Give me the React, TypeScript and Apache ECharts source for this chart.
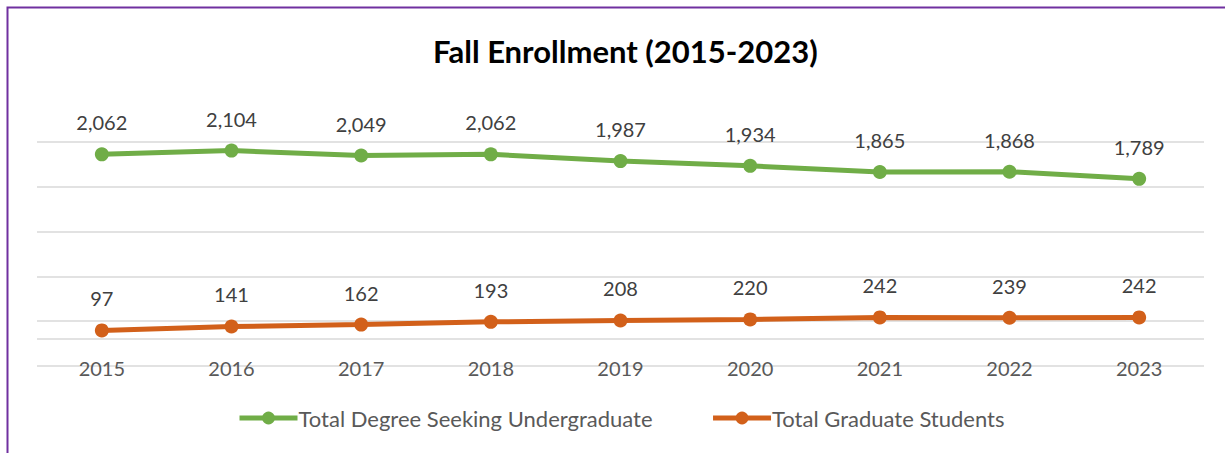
import React, { useEffect, useRef } from "react";
import * as echarts from "echarts";

const years = ["2015", "2016", "2017", "2018", "2019", "2020", "2021", "2022", "2023"];
const undergrad = [2062, 2104, 2049, 2062, 1987, 1934, 1865, 1868, 1789];
const graduate = [97, 141, 162, 193, 208, 220, 242, 239, 242];
const seriesNames = ["Total Degree Seeking Undergraduate", "Total Graduate Students"];
const yMin = -300;
const yMax = 2200;
const yStep = 500;

const FONT = "Lato, 'Open Sans', sans-serif";

export default function App() {
  const ref = useRef<HTMLDivElement>(null);
  useEffect(() => {
    document.body.style.margin = "0";
    if (!ref.current) return;
    const chart = echarts.init(ref.current, undefined, { renderer: "svg" });
    const labelStyle = {
      show: true,
      position: "top" as const,
      distance: 15,
      color: "#404040",
      fontSize: 20,
      fontFamily: FONT,
      formatter: (p: any) => Number(p.value).toLocaleString("en-US"),
    };
    chart.setOption({
      animation: false,
      backgroundColor: "#ffffff",
      title: {
        text: "Fall Enrollment (2015-2023)",
        left: 428,
        top: 30,
        textStyle: { fontSize: 31, fontWeight: "bold", color: "#000000", fontFamily: FONT },
      },
      graphic: [
        {
          type: "rect",
          shape: { x: 7.5, y: 7.5, width: 1240, height: 470 },
          style: { fill: "none", stroke: "#7030A0", lineWidth: 2 },
          silent: true,
          z: 100,
        },
      ],
      legend: {
        bottom: 19,
        left: 232,
        itemWidth: 58,
        itemHeight: 16,
        itemGap: 58,
        lineStyle: { width: 5 },
        textStyle: { fontSize: 22, color: "#595959", fontFamily: FONT, padding: [0, 0, 0, -4] },
        data: seriesNames,
      },
      grid: { left: 37, right: 21, top: 142, bottom: 87, containLabel: false },
      xAxis: {
        type: "category",
        data: years,
        boundaryGap: true,
        axisLine: { show: false },
        axisTick: { show: false },
        axisLabel: { color: "#595959", fontSize: 20, fontFamily: FONT, margin: -8 },
      },
      yAxis: {
        type: "value",
        min: yMin,
        max: yMax,
        interval: yStep,
        axisLabel: { show: false },
        axisLine: { show: false },
        axisTick: { show: false },
        splitLine: { lineStyle: { color: "#D9D9D9", width: 1.5 } },
      },
      series: [
        {
          name: seriesNames[0],
          type: "line",
          data: undergrad,
          symbol: "circle",
          symbolSize: 14,
          itemStyle: { color: "#70AD47" },
          lineStyle: { color: "#70AD47", width: 5 },
          label: labelStyle,
          z: 3,
        },
        {
          name: seriesNames[1],
          type: "line",
          data: graduate,
          symbol: "circle",
          symbolSize: 14,
          itemStyle: { color: "#D2601A" },
          lineStyle: { color: "#D2601A", width: 5 },
          label: labelStyle,
          z: 3,
          markLine: {
            silent: true,
            symbol: "none",
            label: { show: false },
            lineStyle: { color: "#D9D9D9", width: 1.5, type: "solid" },
            data: [{ yAxis: 0 }],
            z: 1,
          },
        },
      ],
    });
    return () => chart.dispose();
  }, []);
  return <div ref={ref} style={{ width: 1225, height: 453 }} />;
}
